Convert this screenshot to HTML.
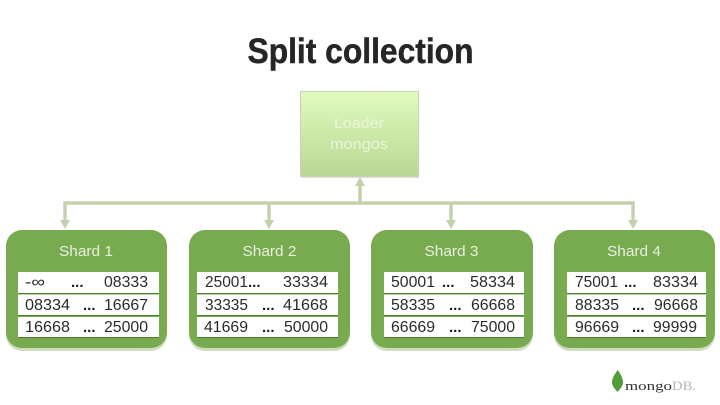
<!DOCTYPE html>
<html><head><meta charset="utf-8"><style>
html,body{margin:0;padding:0;background:#fff;width:720px;height:405px;overflow:hidden}
svg{display:block;filter:blur(0.3px)}
text{font-family:"Liberation Sans",sans-serif}
.t{font-size:15.5px;fill:#2a2a2a}
.h{font-size:15px;fill:#e8f1dc;text-anchor:middle}
.d{font-size:15px;fill:#1a1a1a;font-weight:bold}
</style></head><body>
<svg width="720" height="405" viewBox="0 0 720 405" xmlns="http://www.w3.org/2000/svg">
<defs>
<linearGradient id="g" x1="0" y1="0" x2="0" y2="1"><stop offset="0" stop-color="#e0fbbd"/><stop offset="1" stop-color="#b9d793"/></linearGradient>
</defs>
<text x="360.500" y="63" text-anchor="middle" font-size="35" font-weight="bold" fill="#262626" stroke="#262626" stroke-width="0.5" textLength="226" lengthAdjust="spacingAndGlyphs">Split collection</text>

<rect x="301" y="93" width="118" height="85" fill="#dcdcdc"/>
<rect x="300.500" y="91.500" width="118" height="85" fill="url(#g)" stroke="#c5d6ae" stroke-width="1"/>
<text x="359" y="128" text-anchor="middle" font-size="15" fill="#e9f4da" textLength="50" lengthAdjust="spacingAndGlyphs">Loader</text>
<text x="359" y="149" text-anchor="middle" font-size="15" fill="#e9f4da" textLength="58" lengthAdjust="spacingAndGlyphs">mongos</text>

<g fill="none" stroke="#c3d1ad" stroke-width="3.500">
<path d="M65 222V203H633V222"/>
<path d="M360 203V184"/>
<path d="M269 203V222"/>
<path d="M451 203V222"/>
</g>
<g fill="#c3d1ad">
<path d="M360 177L365 186H355Z"/>
<path d="M65 229L60 220H70Z"/>
<path d="M269 229L264 220H274Z"/>
<path d="M451 229L446 220H456Z"/>
<path d="M633 229L628 220H638Z"/>
</g>

<g fill="#cfdcc0">
<rect x="6" y="232" width="161" height="119" rx="16"/>
<rect x="189" y="232" width="161" height="119" rx="16"/>
<rect x="371" y="232" width="162" height="119" rx="16"/>
<rect x="554" y="232" width="161" height="119" rx="16"/>
</g>
<g fill="#78aa50">
<rect x="6" y="230" width="161" height="118" rx="16"/>
<rect x="189" y="230" width="161" height="118" rx="16"/>
<rect x="371" y="230" width="162" height="118" rx="16"/>
<rect x="554" y="230" width="161" height="118" rx="16"/>
</g>

<text class="h" x="86" y="256" textLength="54" lengthAdjust="spacingAndGlyphs">Shard 1</text>
<text class="h" x="269.500" y="256" textLength="54" lengthAdjust="spacingAndGlyphs">Shard 2</text>
<text class="h" x="451.500" y="256" textLength="54" lengthAdjust="spacingAndGlyphs">Shard 3</text>
<text class="h" x="634" y="256" textLength="54" lengthAdjust="spacingAndGlyphs">Shard 4</text>

<g fill="#4f7a33">
<rect x="18" y="293" width="141" height="1"/><rect x="18" y="315" width="141" height="1"/><rect x="18" y="337" width="141" height="1"/>
<rect x="197" y="293" width="141" height="1"/><rect x="197" y="315" width="141" height="1"/><rect x="197" y="337" width="141" height="1"/>
<rect x="384" y="293" width="140" height="1"/><rect x="384" y="315" width="140" height="1"/><rect x="384" y="337" width="140" height="1"/>
<rect x="567" y="293" width="139" height="1"/><rect x="567" y="315" width="139" height="1"/><rect x="567" y="337" width="139" height="1"/>
</g>
<g fill="#fff">
<rect x="18" y="272" width="141" height="21"/><rect x="18" y="294.500" width="141" height="20.500"/><rect x="18" y="317" width="141" height="20"/>
<rect x="197" y="272" width="141" height="21"/><rect x="197" y="294.500" width="141" height="20.500"/><rect x="197" y="317" width="141" height="20"/>
<rect x="384" y="272" width="140" height="21"/><rect x="384" y="294.500" width="140" height="20.500"/><rect x="384" y="317" width="140" height="20"/>
<rect x="567" y="272" width="139" height="21"/><rect x="567" y="294.500" width="139" height="20.500"/><rect x="567" y="317" width="139" height="20"/>
</g>

<g class="t">
<text class="t" x="25" y="287" textLength="20" lengthAdjust="spacingAndGlyphs">-∞</text>
<text class="d" x="71" y="287">...</text>
<text class="t" x="104" y="287" textLength="44" lengthAdjust="spacingAndGlyphs">08333</text>
<text class="t" x="25" y="310" textLength="45" lengthAdjust="spacingAndGlyphs">08334</text>
<text class="d" x="83" y="310">...</text>
<text class="t" x="104" y="310" textLength="44" lengthAdjust="spacingAndGlyphs">16667</text>
<text class="t" x="25" y="332" textLength="45" lengthAdjust="spacingAndGlyphs">16668</text>
<text class="d" x="83" y="332">...</text>
<text class="t" x="104" y="332" textLength="44" lengthAdjust="spacingAndGlyphs">25000</text>

<text class="t" x="205" y="287" textLength="43" lengthAdjust="spacingAndGlyphs">25001</text>
<text class="d" x="248" y="287">...</text>
<text class="t" x="283" y="287" textLength="45" lengthAdjust="spacingAndGlyphs">33334</text>
<text class="t" x="205" y="310" textLength="43" lengthAdjust="spacingAndGlyphs">33335</text>
<text class="d" x="262" y="310">...</text>
<text class="t" x="283" y="310" textLength="45" lengthAdjust="spacingAndGlyphs">41668</text>
<text class="t" x="204" y="332" textLength="44" lengthAdjust="spacingAndGlyphs">41669</text>
<text class="d" x="262" y="332">...</text>
<text class="t" x="284" y="332" textLength="44" lengthAdjust="spacingAndGlyphs">50000</text>

<text class="t" x="391" y="287" textLength="44" lengthAdjust="spacingAndGlyphs">50001</text>
<text class="d" x="442" y="287">...</text>
<text class="t" x="470" y="287" textLength="45" lengthAdjust="spacingAndGlyphs">58334</text>
<text class="t" x="391" y="310" textLength="44" lengthAdjust="spacingAndGlyphs">58335</text>
<text class="d" x="449" y="310">...</text>
<text class="t" x="471" y="310" textLength="44" lengthAdjust="spacingAndGlyphs">66668</text>
<text class="t" x="391" y="332" textLength="44" lengthAdjust="spacingAndGlyphs">66669</text>
<text class="d" x="449" y="332">...</text>
<text class="t" x="471" y="332" textLength="44" lengthAdjust="spacingAndGlyphs">75000</text>

<text class="t" x="575" y="287" textLength="43" lengthAdjust="spacingAndGlyphs">75001</text>
<text class="d" x="624" y="287">...</text>
<text class="t" x="653" y="287" textLength="45" lengthAdjust="spacingAndGlyphs">83334</text>
<text class="t" x="575" y="310" textLength="44" lengthAdjust="spacingAndGlyphs">88335</text>
<text class="d" x="632" y="310">...</text>
<text class="t" x="654" y="310" textLength="44" lengthAdjust="spacingAndGlyphs">96668</text>
<text class="t" x="575" y="332" textLength="44" lengthAdjust="spacingAndGlyphs">96669</text>
<text class="d" x="632" y="332">...</text>
<text class="t" x="653" y="332" textLength="44" lengthAdjust="spacingAndGlyphs">99999</text>
</g>

<path d="M617.500 370C621 374 623 379 623 382C623 386 620 389 617.500 392C615 389 612 386 612 382C612 378 615 374 617.500 370Z" fill="#4f9e3a"/>
<text x="625" y="390" font-size="13" style="font-family:'Liberation Serif',serif" fill="#333" textLength="47" lengthAdjust="spacingAndGlyphs">mongo</text>
<text x="672" y="390" font-size="13" style="font-family:'Liberation Serif',serif" fill="#b5b5b5" textLength="24" lengthAdjust="spacingAndGlyphs">DB.</text>
</svg>
</body></html>
